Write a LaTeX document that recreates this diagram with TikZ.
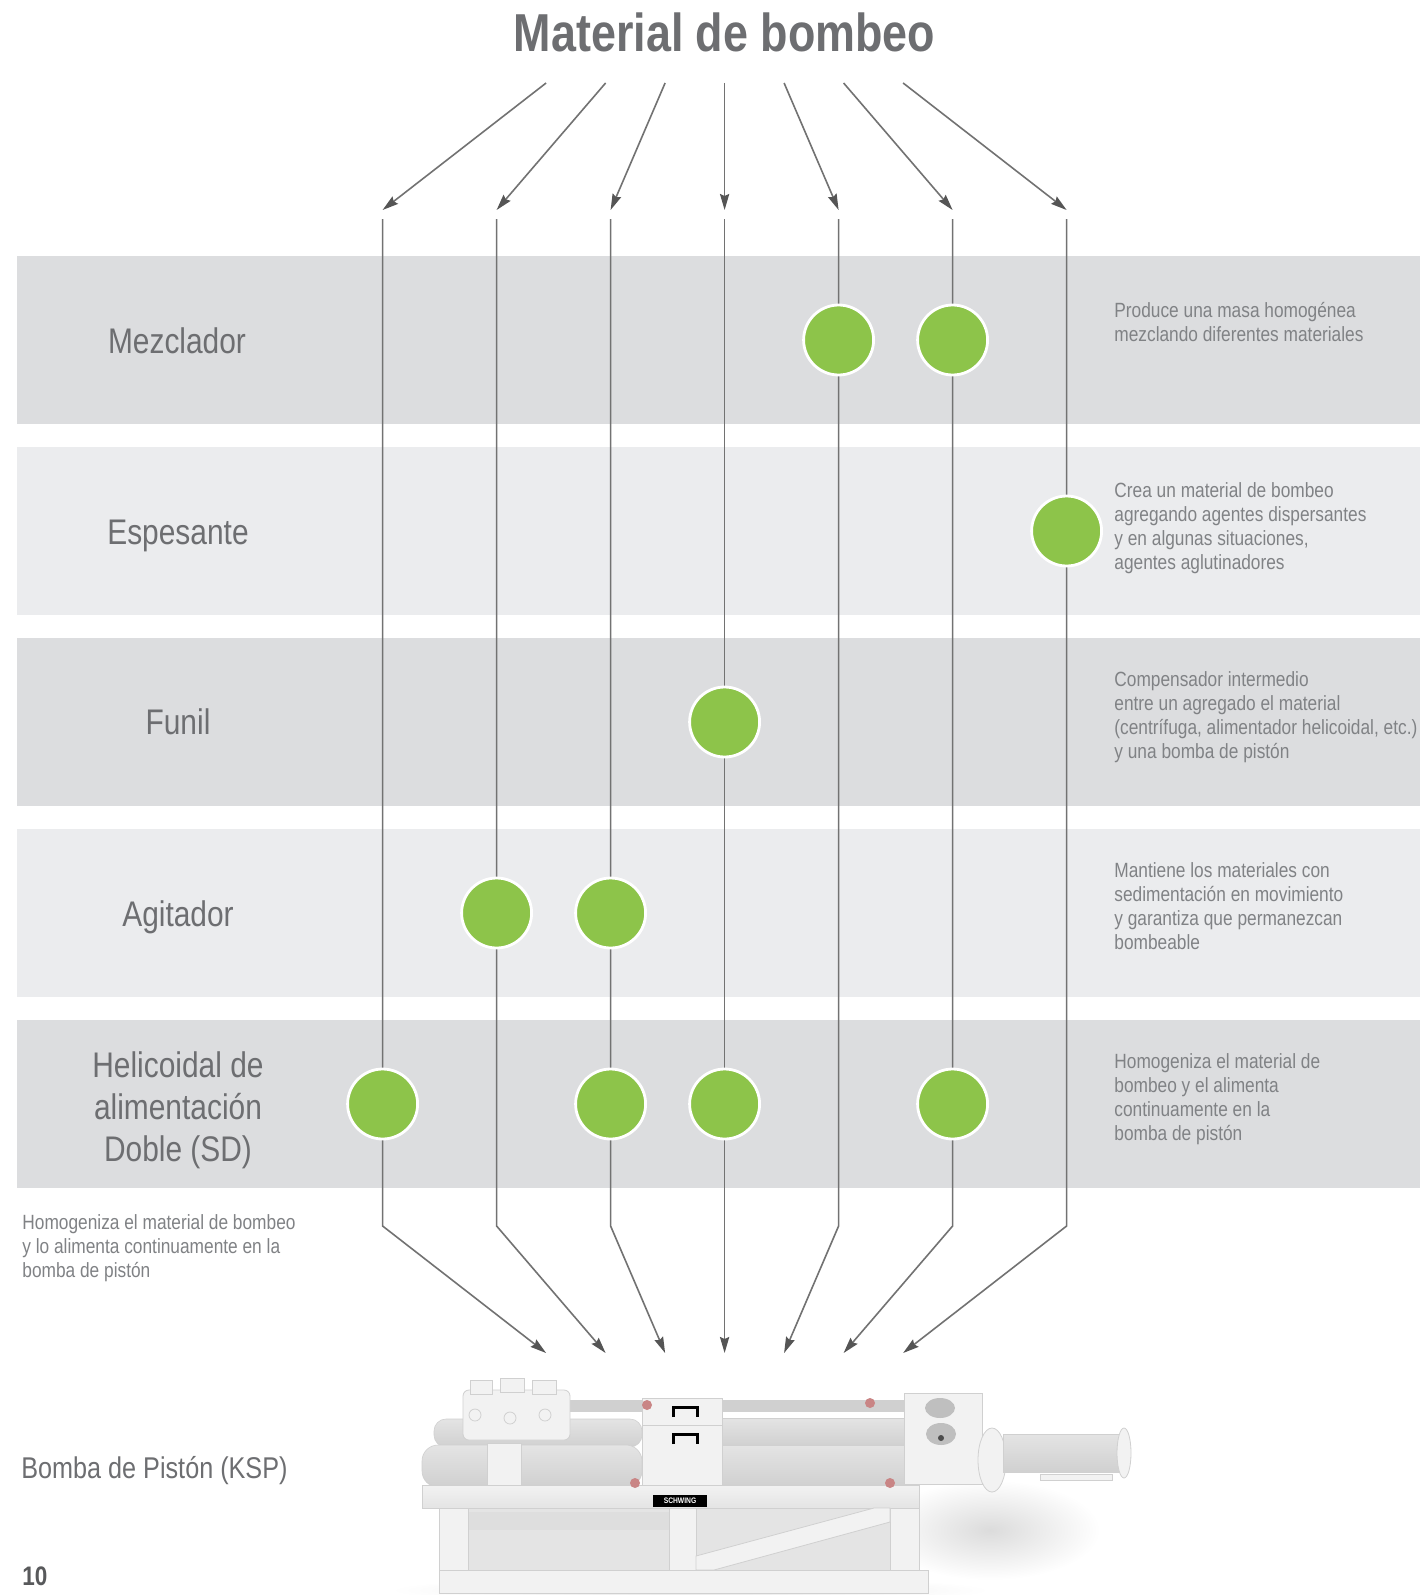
\documentclass[tikz,border=0pt]{standalone}
\usepackage{fontspec}
\setmainfont[FakeStretch=0.84]{Liberation Sans}
\usetikzlibrary{arrows.meta}
\definecolor{txtgray}{HTML}{6D6E71}
\definecolor{descgray}{HTML}{808285}
\definecolor{pagegray}{HTML}{58595B}
\definecolor{banddark}{HTML}{DCDDDF}
\definecolor{bandlight}{HTML}{EBECEE}
\definecolor{dotgreen}{HTML}{8DC44A}
\definecolor{linegray}{HTML}{727272}
\definecolor{headgray}{HTML}{555555}
\definecolor{pumplight}{HTML}{F2F2F2}
\definecolor{pumpmid}{HTML}{E4E4E4}
\definecolor{pumpdark}{HTML}{D0D0D0}
\definecolor{boltred}{HTML}{C98585}

\begin{document}
\begin{tikzpicture}[x=0.5pt,y=-0.5pt,
  rail/.style={line width=0.8pt,linegray},
  feed/.style={line width=0.8pt,linegray,-{Stealth[length=8pt,width=4.6pt,inset=1pt,color=headgray]}},
  dot/.style={circle,fill=dotgreen,draw=white,line width=1.4pt,minimum size=35pt,inner sep=0pt},
  stage/.style={anchor=base,align=center,inner sep=0pt,text=txtgray,font=\fontsize{17.8}{21}\selectfont},
  note/.style={anchor=base west,align=left,inner sep=0pt,text=descgray,font=\fontsize{10.3}{12}\selectfont},
  part/.style={fill=pumplight,draw=pumpdark,line width=0.4pt},
  tube/.style={top color=pumpmid,middle color=white,bottom color=pumpdark,draw=pumpdark,line width=0.3pt}]
  \useasboundingbox (0,0) rectangle (1420,1595);
  \fill[white] (0,0) rectangle (1420,1595);

  % bands
  \fill[banddark] (17,256) rectangle (1420,424);
  \fill[bandlight] (17,447) rectangle (1420,615);
  \fill[banddark] (17,638) rectangle (1420,806);
  \fill[bandlight] (17,829) rectangle (1420,997);
  \fill[banddark] (17,1020) rectangle (1420,1188);

  \node[anchor=base,inner sep=0pt,text=txtgray,font=\fontsize{26.7}{30}\selectfont\bfseries] (title) at (724.6,52) {Material de bombeo};

  % columns
  \coordinate (in1) at (546.1,83);  \coordinate (hd1) at (382.6,210);  \coordinate (tp1) at (382.6,219);  \coordinate (bt1) at (382.6,1226);  \coordinate (out1) at (546.1,1353);
  \coordinate (in2) at (605.6,83);  \coordinate (hd2) at (496.6,210);  \coordinate (tp2) at (496.6,219);  \coordinate (bt2) at (496.6,1226);  \coordinate (out2) at (605.6,1353);
  \coordinate (in3) at (665.1,83);  \coordinate (hd3) at (610.6,210);  \coordinate (tp3) at (610.6,219);  \coordinate (bt3) at (610.6,1226);  \coordinate (out3) at (665.1,1353);
  \coordinate (in4) at (724.6,83);  \coordinate (hd4) at (724.6,210);  \coordinate (tp4) at (724.6,219);  \coordinate (bt4) at (724.6,1226);  \coordinate (out4) at (724.6,1353);
  \coordinate (in5) at (784.1,83);  \coordinate (hd5) at (838.6,210);  \coordinate (tp5) at (838.6,219);  \coordinate (bt5) at (838.6,1226);  \coordinate (out5) at (784.1,1353);
  \coordinate (in6) at (843.6,83);  \coordinate (hd6) at (952.6,210);  \coordinate (tp6) at (952.6,219);  \coordinate (bt6) at (952.6,1226);  \coordinate (out6) at (843.6,1353);
  \coordinate (in7) at (903.1,83);  \coordinate (hd7) at (1066.6,210); \coordinate (tp7) at (1066.6,219); \coordinate (bt7) at (1066.6,1226); \coordinate (out7) at (903.1,1353);

  \draw[feed] (in1) -- (hd1);  \draw[feed] (tp1) -- (bt1) -- (out1);
  \draw[feed] (in2) -- (hd2);  \draw[feed] (tp2) -- (bt2) -- (out2);
  \draw[feed] (in3) -- (hd3);  \draw[feed] (tp3) -- (bt3) -- (out3);
  \draw[feed] (in4) -- (hd4);  \draw[feed] (tp4) -- (bt4) -- (out4);
  \draw[feed] (in5) -- (hd5);  \draw[feed] (tp5) -- (bt5) -- (out5);
  \draw[feed] (in6) -- (hd6);  \draw[feed] (tp6) -- (bt6) -- (out6);
  \draw[feed] (in7) -- (hd7);  \draw[feed] (tp7) -- (bt7) -- (out7);

  % green dots
  \node[dot] (mz5) at (838.6,340) {};
  \node[dot] (mz6) at (952.6,340) {};
  \node[dot] (es7) at (1066.6,531) {};
  \node[dot] (fu4) at (724.6,722) {};
  \node[dot] (ag2) at (496.6,913) {};
  \node[dot] (ag3) at (610.6,913) {};
  \node[dot] (he1) at (382.6,1104) {};
  \node[dot] (he3) at (610.6,1104) {};
  \node[dot] (he4) at (724.6,1104) {};
  \node[dot] (he6) at (952.6,1104) {};

  % stage names (base = last line)
  \node[stage] (mezclador) at (177,353) {Mezclador};
  \node[stage] (espesante) at (178,544) {Espesante};
  \node[stage] (funil) at (178,734) {Funil};
  \node[stage] (agitador) at (178,926) {Agitador};
  \node[stage] (helicoidal) at (178,1161) {Helicoidal de\\alimentación\\Doble (SD)};

  % notes
  \node[note] (nmz) at (1114,341) {Produce una masa homogénea\\mezclando diferentes materiales};
  \node[note] (nes) at (1114,569) {Crea un material de bombeo\\agregando agentes dispersantes\\y en algunas situaciones,\\agentes aglutinadores};
  \node[note] (nfu) at (1114,758.5) {Compensador intermedio\\entre un agregado el material\\(centrífuga, alimentador helicoidal, etc.)\\y una bomba de pistón};
  \node[note] (nag) at (1114,949.6) {Mantiene los materiales con\\sedimentación en movimiento\\y garantiza que permanezcan\\bombeable};
  \node[note] (nhe) at (1114,1140.7) {Homogeniza el material de\\bombeo y el alimenta\\continuamente en la\\bomba de pistón};
  \node[note] (nsd) at (22,1277) {Homogeniza el material de bombeo\\y lo alimenta continuamente en la\\bomba de pistón};

  \node[anchor=base west,inner sep=0pt,text=txtgray,font=\fontsize{15}{18}\selectfont] (ksp) at (21,1478) {Bomba de Pistón (KSP)};
  \node[anchor=base west,inner sep=0pt,text=pagegray,font=\fontsize{13.4}{16}\selectfont\bfseries] (page) at (22,1585) {10};

  % pump
  \shade[inner color=black!14,outer color=white] (990,1530) ellipse (110 and 50);
  \shade[inner color=black!10,outer color=white] (690,1590) ellipse (300 and 14);
  \fill[pumpmid] (439,1508) rectangle (919,1572);
  \fill[pumpdark!70!white] (468,1512) rectangle (669,1530);
  \fill[pumpdark] (570,1400) rectangle (904,1412);
  \shade[tube,rounded corners=6pt] (434,1419) rectangle (642,1447);
  \shade[tube,rounded corners=8pt] (422,1445) rectangle (642,1487);
  \shade[tube] (722,1418) rectangle (904,1446);
  \shade[tube] (722,1445) rectangle (904,1487);
  \draw[part,rounded corners=3pt] (463,1390) rectangle (570,1440);
  \draw[part] (470,1380) rectangle (492,1394);
  \draw[part] (500,1378) rectangle (524,1392);
  \draw[part] (532,1380) rectangle (556,1394);
  \draw[part] (475,1415) circle (6);
  \draw[part] (510,1418) circle (6);
  \draw[part] (545,1415) circle (6);
  \draw[part] (487,1443) rectangle (521,1487);
  \draw[part] (642,1398) rectangle (722,1488);
  \draw[pumpdark] (642,1425) -- (722,1425);
  \draw[black,line width=1.5pt] (673,1417) -- (673,1407) -- (697,1407) -- (697,1417);
  \draw[black,line width=1.5pt] (673,1444) -- (673,1434) -- (697,1434) -- (697,1444);
  \draw[part] (904,1393) rectangle (982,1484);
  \fill[gray!50] (940,1408) ellipse (15 and 10);
  \fill[gray!50] (941,1434) ellipse (15 and 11);
  \fill[black!70] (941,1438) circle (3);
  \draw[part] (992,1460) ellipse (14 and 32);
  \shade[tube] (1003,1434) rectangle (1120,1472);
  \draw[part] (1124,1453) ellipse (7 and 25);
  \draw[part] (1040,1474) rectangle (1112,1480);
  \shade[top color=pumplight,bottom color=pumpmid,draw=pumpdark] (422,1485) rectangle (919,1508);
  \draw[part] (439,1508) rectangle (468,1572);
  \draw[part] (669,1508) rectangle (696,1572);
  \draw[part] (890,1508) rectangle (919,1572);
  \draw[part] (696,1556) -- (874,1508) -- (890,1508) -- (890,1522) -- (714,1570) -- (696,1570) -- cycle;
  \draw[part] (439,1570) rectangle (928,1593);
  \fill[boltred] (647,1405) circle (5);
  \fill[boltred] (870,1403) circle (5);
  \fill[boltred] (635,1483) circle (5);
  \fill[boltred] (890,1483) circle (5);
  \node[fill=black,text=white,inner sep=0pt,minimum width=27pt,minimum height=6pt,font=\fontsize{4}{4}\selectfont\bfseries] (plate) at (680,1501) {SCHWING};
\end{tikzpicture}
\end{document}
